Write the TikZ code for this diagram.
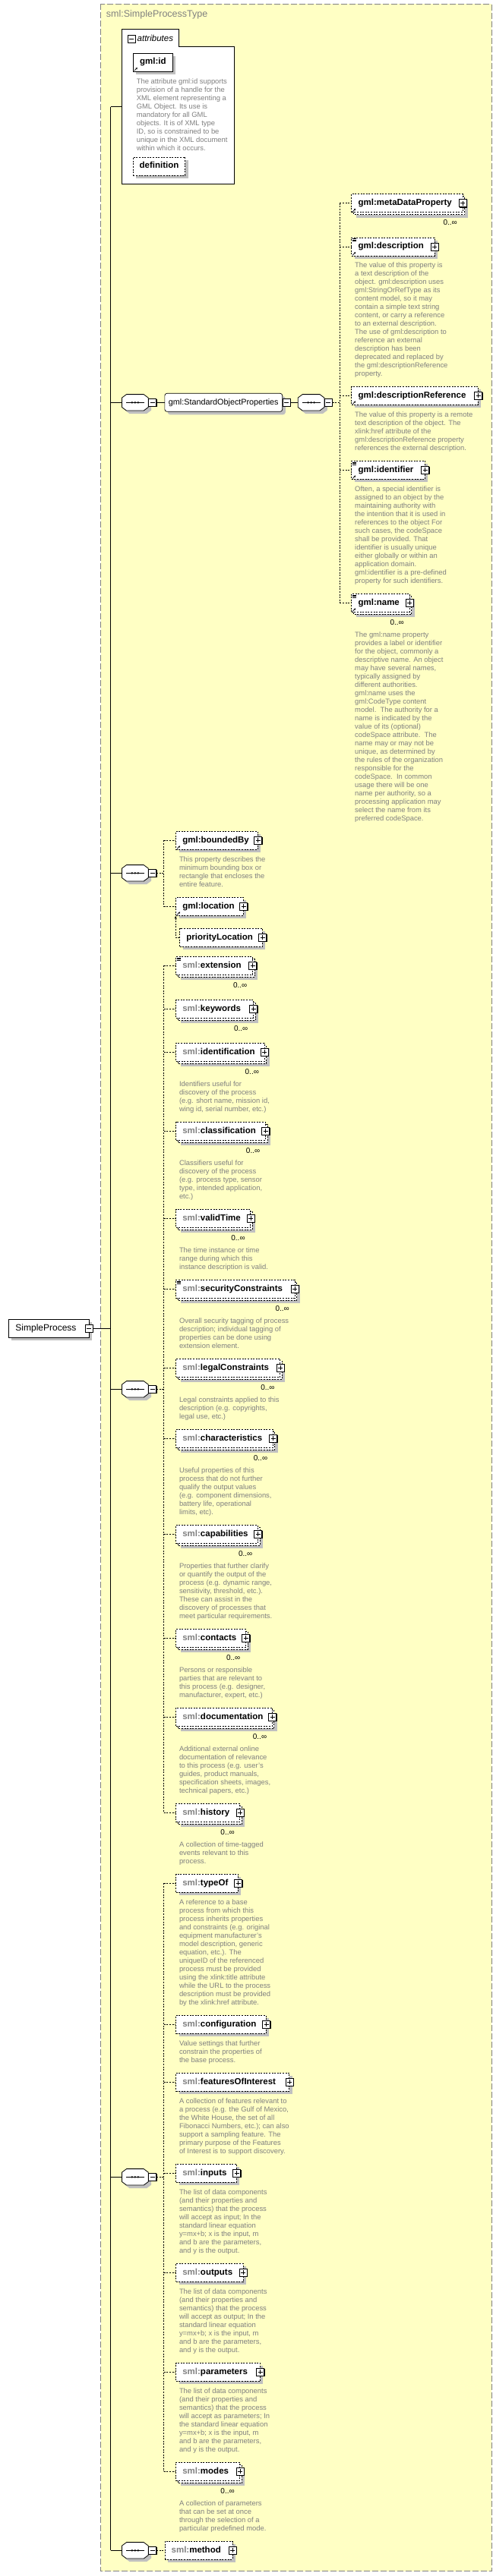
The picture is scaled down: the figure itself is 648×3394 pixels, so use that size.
\documentclass[tikz,border=0pt]{standalone}
\usepackage{fontspec}
\setmainfont{Liberation Sans}
\usetikzlibrary{shadows,arrows.meta}

\definecolor{bgyellow}{RGB}{255,255,196}
\definecolor{shadowgray}{RGB}{192,192,192}
\definecolor{descgray}{RGB}{128,128,128}
\definecolor{prefixgray}{RGB}{128,128,128}
\definecolor{framegray}{RGB}{128,128,128}

\tikzset{
  dsh/.style={dash pattern=on 2pt off 1.6pt},
  conn/.style={line width=0.7pt},
  oconn/.style={line width=0.7pt, dsh},
  boxshadow/.style={drop shadow={shadow xshift=4pt, shadow yshift=-4pt, fill=shadowgray, opacity=1}},
  btnshadow/.style={drop shadow={shadow xshift=1pt, shadow yshift=-1pt, fill=black, opacity=1}},
  elemnode/.style={draw, dsh, fill=white, line width=0.7pt, minimum height=24pt, inner xsep=8.8pt, inner ysep=0pt,
    text height=8.3pt, text depth=2.5pt, align=left, anchor=west, font=\fontsize{11.5}{12}\selectfont\bfseries},
  reqnode/.style={draw, solid, fill=white, line width=0.7pt, minimum height=24pt, inner xsep=8.8pt, inner ysep=0pt,
    text height=8.3pt, text depth=2.5pt, anchor=west, font=\fontsize{11.5}{12}\selectfont\bfseries},
  backbox/.style={draw, dsh, fill=white, line width=0.7pt},
  plusbox/.style={rectangle, draw, solid, fill=white, line width=0.8pt, minimum width=10pt, minimum height=10pt, inner sep=0pt, btnshadow,
    path picture={\draw[line width=0.8pt] ([xshift=2pt]path picture bounding box.west) -- ([xshift=-2pt]path picture bounding box.east);
                  \draw[line width=0.8pt] ([yshift=-2pt]path picture bounding box.north) -- ([yshift=2pt]path picture bounding box.south);}},
  minusbox/.style={rectangle, draw, solid, fill=white, line width=0.8pt, minimum width=10pt, minimum height=10pt, inner sep=0pt, btnshadow,
    path picture={\draw[line width=0.8pt] ([xshift=2pt]path picture bounding box.west) -- ([xshift=-2pt]path picture bounding box.east);}},
  desc/.style={anchor=north west, inner sep=0pt, align=left, text=descgray, font=\fontsize{9.4}{11}\selectfont},
  mult/.style={inner sep=0pt, font=\fontsize{10}{10}\selectfont},
  compnode/.style={rectangle, minimum width=34.3pt, minimum height=21pt, inner sep=0pt},
  compline/.style={draw, fill=white, line width=0.8pt, solid, boxshadow},
  grpnode/.style={draw, solid, fill=white, line width=0.7pt, rounded corners=3pt, minimum width=154.9pt, minimum height=24pt,
    inner xsep=5pt, inner ysep=0pt, text height=8pt, text depth=2.4pt, anchor=west, font=\fontsize{10.8}{12}\selectfont, boxshadow},
}

\newcommand\pfx[1]{\textcolor{prefixgray}{#1}}
\newcommand\elS[5]{%
  \pgfmathsetmacro\eltw{#3-#2-17.6}%
  \node[elemnode, boxshadow, text width=\eltw pt] (#1) at (#2,#4) {#5};
  \node[plusbox] (#1-p) at (#1.east) {};
}
\newcommand\elM[5]{%
  \pgfmathsetmacro\eltw{#3-#2-17.6}%
  \path[backbox, boxshadow] (#2+3,#4-9) rectangle (#3+3,#4+15);
  \node[elemnode, text width=\eltw pt] (#1) at (#2,#4) {#5};
  \node[plusbox] (#1-p) at (#1.east) {};
  \node[mult] (#1-m) at ([xshift=-16.5pt,yshift=-25.7pt]#1.east) {0..∞};
}
\newcommand\descr[3]{%
  \node[desc] (#1-d) at ([xshift=4.6pt,yshift=-#2pt]#1.west) {\strut #3};
}
\newcommand\compo[3]{%
  \node[compnode] (#1) at (#2,#3) {};
  \path[compline] ([xshift=6pt]#1.north west) -- ([xshift=-6pt]#1.north east) -- ([yshift=-4.5pt]#1.north east)
     -- ([yshift=4.5pt]#1.south east) -- ([xshift=-6pt]#1.south east) -- ([xshift=6pt]#1.south west)
     -- ([yshift=4.5pt]#1.south west) -- ([yshift=-4.5pt]#1.north west) -- cycle;
  \draw[line width=0.8pt] ([xshift=-12pt]#1.center) -- ([xshift=12pt]#1.center);
  \fill ([xshift=-4pt]#1.center) circle (1.4pt) (#1.center) circle (1.4pt) ([xshift=4pt]#1.center) circle (1.4pt);
  \node[minusbox] (#1-m) at ([xshift=5.4pt]#1.east) {};
}
\newcommand\refmark[1]{%
  \draw[line width=0.7pt, -{Stealth[length=2.4pt,width=2.6pt]}] ([xshift=1.8pt,yshift=1.2pt]#1.south west) -- ([xshift=5.8pt,yshift=5.2pt]#1.south west);
}
\newcommand\annmark[1]{%
  \draw[line width=0.5pt] ([xshift=1.5pt,yshift=-1.8pt]#1.north west) -- ++(5,0);
  \draw[line width=0.5pt] ([xshift=1.5pt,yshift=-3.3pt]#1.north west) -- ++(5,0);
  \draw[line width=0.5pt] ([xshift=1.5pt,yshift=-4.8pt]#1.north west) -- ++(5,0);
}

\begin{document}
\begin{tikzpicture}[x=1pt,y=-1pt]
\useasboundingbox (0,0) rectangle (648,3394);

% type frame
\path[draw=framegray, fill=bgyellow, dash pattern=on 8pt off 3pt, line width=0.8pt] (132.6,5.3) rectangle (647,3387.7);
\node[anchor=west, inner sep=0pt, text=framegray, font=\fontsize{12.5}{13}\selectfont] (title) at (139.7,19) {sml:SimpleProcessType};

% attributes
\path[draw, fill=white, line width=0.8pt] (160.7,38) -- (235,38) -- (235,61) -- (308.4,61) -- (308.4,242) -- (160.7,242) -- cycle;
\node[minusbox] (attr-m) at (173,51) {};
\node[anchor=west, inner sep=0pt, font=\fontsize{11.5}{12}\selectfont\itshape] (attr-t) at (180.5,50.5) {attributes};
\coordinate (attrc) at (160.7,140.7);
\node[reqnode, boxshadow, minimum width=52pt, inner xsep=0pt] (gid) at (175,82) {gml:id};
\refmark{gid}
\descr{gid}{20.6}{The attribute gml:id supports\\provision of a handle for the\\XML element representing a\\GML Object. Its use is\\mandatory for all GML\\objects. It is of XML type\\ID, so is constrained to be\\unique in the XML document\\within which it occurs.}
\node[elemnode, boxshadow, minimum width=68.4pt, inner xsep=0pt] (gdef) at (175,219) {definition};

% root element
\node[reqnode, boxshadow, font=\fontsize{12}{12}\selectfont, inner xsep=9.6pt, text width=87pt, align=left] (sp) at (10.5,1750.3) {SimpleProcess};
\node[minusbox] (sp-m) at (sp.east) {};

% compositors
\compo{c1}{177.85}{530.3}
\compo{c2}{409.6}{530.3}
\compo{c3}{177.85}{1150.3}
\compo{c4}{177.85}{1830.3}
\compo{c5}{177.85}{2868.3}
\compo{c6}{177.85}{3360.3}

% group
\node[grpnode] (grp) at (216.5,530.3) {gml:StandardObjectProperties};
\node[minusbox] (grp-m) at ([xshift=5.2pt]grp.east) {};

% group content
\elM{meta}{462.4}{608.5}{267.7}{gml:metaDataProperty}
\refmark{meta}
\elS{gdesc}{462.4}{571.6}{325}{gml:description}
\refmark{gdesc}\annmark{gdesc}
\descr{gdesc}{20}{The value of this property is\\a text description of the\\object. gml:description uses\\gml:StringOrRefType as its\\content model, so it may\\contain a simple text string\\content, or carry a reference\\to an external description.\\The use of gml:description to\\reference an external\\description has been\\deprecated and replaced by\\the gml:descriptionReference\\property.}
\elS{dref}{462.4}{629}{521.3}{gml:descriptionReference}
\refmark{dref}
\descr{dref}{20}{The value of this property is a remote\\text description of the object. The\\xlink:href attribute of the\\gml:descriptionReference property\\references the external description.}
\elS{ident}{462.4}{559}{619.3}{gml:identifier}
\refmark{ident}\annmark{ident}
\descr{ident}{20}{Often, a special identifier is\\assigned to an object by the\\maintaining authority with\\the intention that it is used in\\references to the object For\\such cases, the codeSpace\\shall be provided. That\\identifier is usually unique\\either globally or within an\\application domain.\\gml:identifier is a pre-defined\\property for such identifiers.}
\elM{gname}{462.4}{538.5}{794.3}{gml:name}
\refmark{gname}\annmark{gname}
\descr{gname}{37}{The gml:name property\\provides a label or identifier\\for the object, commonly a\\descriptive name. An object\\may have several names,\\typically assigned by\\different authorities.\\gml:name uses the\\gml:CodeType content\\model.\ \ The authority for a\\name is indicated by the\\value of its (optional)\\codeSpace attribute.\ \ The\\name may or may not be\\unique, as determined by\\the rules of the organization\\responsible for the\\codeSpace.\ \ In common\\usage there will be one\\name per authority, so a\\processing application may\\select the name from its\\preferred codeSpace.}

% sequence 3
\elS{bbox}{231.2}{339}{1107.3}{gml:boundedBy}
\refmark{bbox}
\descr{bbox}{20}{This property describes the\\minimum bounding box or\\rectangle that encloses the\\entire feature.}
\elS{loc}{231.2}{319.8}{1194.3}{gml:location}
\refmark{loc}
\elS{ploc}{236.3}{345}{1235.3}{priorityLocation}

% sequence 4
\elM{ext}{231.2}{332}{1272.3}{\pfx{sml:}extension}
\annmark{ext}
\elM{kw}{231.2}{333}{1329.3}{\pfx{sml:}keywords}
\elM{idf}{231.2}{347.6}{1386.3}{\pfx{sml:}identification}
\descr{idf}{37}{Identifiers useful for\\discovery of the process\\(e.g. short name, mission id,\\wing id, serial number, etc.)}
\elM{cls}{231.2}{348.9}{1490.3}{\pfx{sml:}classification}
\descr{cls}{37}{Classifiers useful for\\discovery of the process\\(e.g. process type, sensor\\type, intended application,\\etc.)}
\elM{vt}{231.2}{329.3}{1605.3}{\pfx{sml:}validTime}
\descr{vt}{37}{The time instance or time\\range during which this\\instance description is valid.}
\elM{sec}{231.2}{387.5}{1698.3}{\pfx{sml:}securityConstraints}
\annmark{sec}
\descr{sec}{37}{Overall security tagging of process\\description; individual tagging of\\properties can be done using\\extension element.}
\elM{legal}{231.2}{368.2}{1802.3}{\pfx{sml:}legalConstraints}
\descr{legal}{37}{Legal constraints applied to this\\description (e.g. copyrights,\\legal use, etc.)}
\elM{chr}{231.2}{358.8}{1895.3}{\pfx{sml:}characteristics}
\descr{chr}{37}{Useful properties of this\\process that do not further\\qualify the output values\\(e.g. component dimensions,\\battery life, operational\\limits, etc).}
\elM{cap}{231.2}{339}{2021.3}{\pfx{sml:}capabilities}
\descr{cap}{37}{Properties that further clarify\\or quantify the output of the\\process (e.g. dynamic range,\\sensitivity, threshold, etc.).\\These can assist in the\\discovery of processes that\\meet particular requirements.}
\elM{cont}{231.2}{323}{2158.3}{\pfx{sml:}contacts}
\descr{cont}{37}{Persons or responsible\\parties that are relevant to\\this process (e.g. designer,\\manufacturer, expert, etc.)}
\elM{doc}{231.2}{357.8}{2262.3}{\pfx{sml:}documentation}
\descr{doc}{37}{Additional external online\\documentation of relevance\\to this process (e.g. user's\\guides, product manuals,\\specification sheets, images,\\technical papers, etc.)}
\elM{hist}{231.2}{315.4}{2388.3}{\pfx{sml:}history}
\descr{hist}{37}{A collection of time-tagged\\events relevant to this\\process.}

% sequence 5
\elS{typeof}{231.2}{313}{2481.3}{\pfx{sml:}typeOf}
\descr{typeof}{20}{A reference to a base\\process from which this\\process inherits properties\\and constraints (e.g. original\\equipment manufacturer's\\model description, generic\\equation, etc.). The\\uniqueID of the referenced\\process must be provided\\using the xlink:title attribute\\while the URL to the process\\description must be provided\\by the xlink:href attribute.}
\elS{conf}{231.2}{349.8}{2667.3}{\pfx{sml:}configuration}
\descr{conf}{20}{Value settings that further\\constrain the properties of\\the base process.}
\elS{foi}{231.2}{380.4}{2743.3}{\pfx{sml:}featuresOfInterest}
\descr{foi}{20}{A collection of features relevant to\\a process (e.g. the Gulf of Mexico,\\the White House, the set of all\\Fibonacci Numbers, etc.); can also\\support a sampling feature. The\\primary purpose of the Features\\of Interest is to support discovery.}
\elS{inp}{231.2}{311}{2863.3}{\pfx{sml:}inputs}
\descr{inp}{20}{The list of data components\\(and their properties and\\semantics) that the process\\will accept as input; In the\\standard linear equation\\y=mx+b; x is the input, m\\and b are the parameters,\\and y is the output.}
\elS{outp}{231.2}{319.5}{2994.3}{\pfx{sml:}outputs}
\descr{outp}{20}{The list of data components\\(and their properties and\\semantics) that the process\\will accept as output; In the\\standard linear equation\\y=mx+b; x is the input, m\\and b are the parameters,\\and y is the output.}
\elS{par}{231.2}{342}{3125.3}{\pfx{sml:}parameters}
\descr{par}{20}{The list of data components\\(and their properties and\\semantics) that the process\\will accept as parameters; In\\the standard linear equation\\y=mx+b; x is the input, m\\and b are the parameters,\\and y is the output.}
\elM{modes}{231.2}{315.4}{3256.3}{\pfx{sml:}modes}
\descr{modes}{37}{A collection of parameters\\that can be set at once\\through the selection of a\\particular predefined mode.}

% sequence 6
\elS{meth}{216.5}{305.5}{3360.3}{\pfx{sml:}method}

% ---------- connectors ----------
\coordinate (busTop) at (145.6,140.7);
\coordinate (busBot) at (145.6,3360.3);
\draw[conn] (busTop) -- (busBot);
\draw[conn] (busTop) -- (attrc);
\draw[conn] (sp-m.east) -- (sp-m.east -| busTop);
\foreach \c in {c1,c3,c4,c5,c6} {\draw[conn] (\c.west -| busTop) -- (\c.west);}
\draw[conn] (c1-m.east) -- (grp.west);
\draw[conn] (grp-m.east) -- (c2.west);

\coordinate (v1) at (447.3,530.3);
\draw[oconn] (c2-m.east) -- (v1);
\draw[oconn] (v1 |- meta.west) -- (v1 |- gname.west);
\foreach \e in {meta,gdesc,dref,ident,gname} {\draw[oconn] (v1 |- \e.west) -- (\e.west);}

\coordinate (v3) at (215.7,1150.3);
\draw[oconn] (c3-m.east) -- (v3);
\draw[oconn] (v3 |- bbox.west) -- (v3 |- loc.west);
\foreach \e in {bbox,loc} {\draw[oconn] (v3 |- \e.west) -- (\e.west);}
\draw[oconn, -{Stealth[length=4pt,width=3.2pt]}] (ploc.west) -| (loc.south west);

\coordinate (v4) at (215.7,1830.3);
\draw[oconn] (c4-m.east) -- (v4);
\draw[oconn] (v4 |- ext.west) -- (v4 |- hist.west);
\foreach \e in {ext,kw,idf,cls,vt,sec,legal,chr,cap,cont,doc,hist} {\draw[oconn] (v4 |- \e.west) -- (\e.west);}

\coordinate (v5) at (215.7,2868.3);
\draw[oconn] (c5-m.east) -- (v5);
\draw[oconn] (v5 |- typeof.west) -- (v5 |- modes.west);
\foreach \e in {typeof,conf,foi,inp,outp,par,modes} {\draw[oconn] (v5 |- \e.west) -- (\e.west);}

\draw[oconn] (c6-m.east) -- (meth.west);
\end{tikzpicture}
\end{document}
